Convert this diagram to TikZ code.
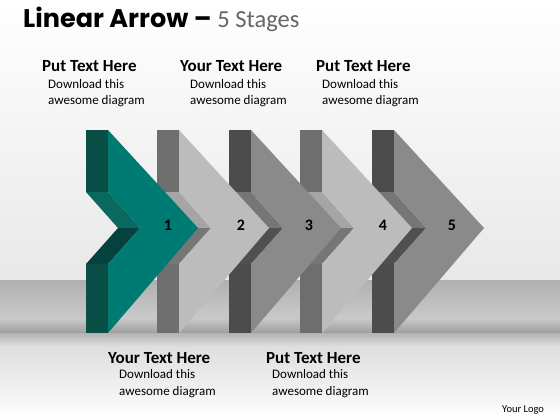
\documentclass[tikz,border=0pt]{standalone}
\usepackage{fontspec}
\setmainfont{Carlito}
\newfontfamily\titlefont{Poppins}

\definecolor{tlF}{RGB}{0,123,116}
\definecolor{tlB}{RGB}{10,78,72}
\definecolor{tlU}{RGB}{10,104,97}
\definecolor{tlL}{RGB}{6,66,61}
\definecolor{ltF}{RGB}{188,188,188}
\definecolor{ltB}{RGB}{110,110,110}
\definecolor{ltU}{RGB}{165,165,165}
\definecolor{ltL}{RGB}{118,118,118}
\definecolor{dkF}{RGB}{138,138,138}
\definecolor{dkB}{RGB}{76,76,76}
\definecolor{dkU}{RGB}{118,118,118}
\definecolor{dkL}{RGB}{80,80,80}

\tikzset{
  head/.style={anchor=base west, inner sep=0pt, font=\bfseries\fontsize{17}{20}\selectfont},
  body/.style={anchor=base west, inner sep=0pt, align=left, font=\fontsize{13}{17}\selectfont},
  num/.style={anchor=base, inner sep=0pt, font=\bfseries\fontsize{16}{18}\selectfont}
}

\begin{document}
\begin{tikzpicture}[x=1pt,y=-1pt]
\useasboundingbox (0,0) rectangle (560,420);

% background and floor
\shade[top color=white, bottom color=black!9] (0,0) rectangle (560,280);
\shade[top color=black!31, bottom color=black!21] (0,280) rectangle (560,318);
\shade[top color=black!21, bottom color=black!38] (0,318) rectangle (560,333);
\shade[top color=black!30, bottom color=black!13] (0,333) rectangle (560,346);
\shade[top color=black!13, bottom color=white] (0,346) rectangle (560,420);

% chevrons, back to front
\foreach \b/\c in {372/dk, 300/lt, 229/dk, 157/lt, 86/tl}{
  \fill[\c B] (\b,130) rectangle (\b+22,192);
  \fill[\c B] (\b,264) rectangle (\b+22,333);
  \fill[\c U] (\b,192) -- (\b+22,192) -- (\b+54,228) -- (\b+32,228) -- cycle;
  \fill[\c L] (\b+32,228) -- (\b+54,228) -- (\b+22,264) -- (\b,264) -- cycle;
  \fill[\c F] (\b+22,130) -- (\b+112,228) -- (\b+22,333) -- (\b+22,264)
    -- (\b+54,228) -- (\b+22,192) -- cycle;
}

\foreach \x/\n in {168/1, 241/2, 309/3, 383/4, 452/5}
  \node[num] (n\n) at (\x,230) {\n};

% title
\node[anchor=base west, inner sep=0pt] (title) at (23,28)
  {{\titlefont\bfseries\fontsize{25.5}{28}\selectfont Linear Arrow –}\hspace{6pt}{\color{black!60}\fontsize{24.5}{28}\selectfont 5 Stages}};

% upper texts
\node[head] (h1) at (42,72) {Put Text Here};
\node[body] (b1) at (48,105) {Download this\\awesome diagram};
\node[head] (h2) at (180,72) {Your Text Here};
\node[body] (b2) at (190,105) {Download this\\awesome diagram};
\node[head] (h3) at (316,72) {Put Text Here};
\node[body] (b3) at (322,105) {Download this\\awesome diagram};

% lower texts
\node[head] (h4) at (108,363) {Your Text Here};
\node[body] (b4) at (119,395) {Download this\\awesome diagram};
\node[head] (h5) at (266,363) {Put Text Here};
\node[body] (b5) at (272,395) {Download this\\awesome diagram};

\node[anchor=base west, inner sep=0pt, font=\fontsize{10.5}{12}\selectfont] (logo) at (502,412) {Your Logo};

\end{tikzpicture}
\end{document}
